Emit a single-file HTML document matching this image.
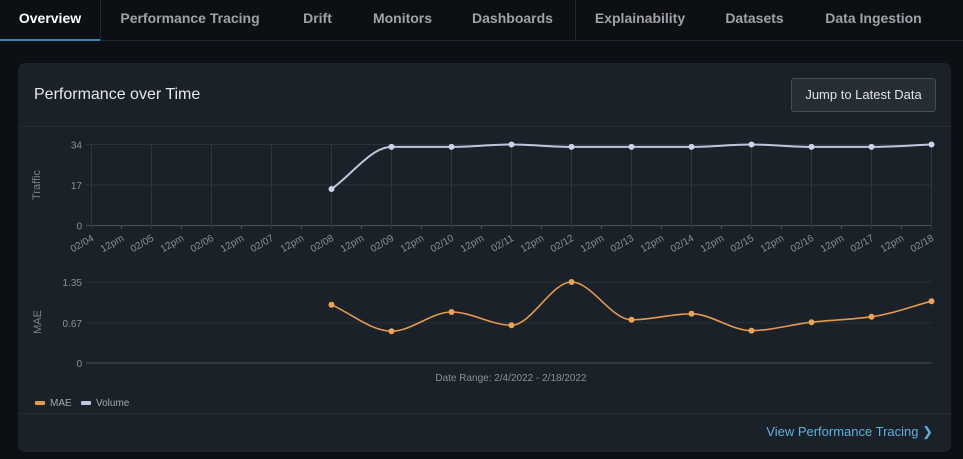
<!DOCTYPE html>
<html><head><meta charset="utf-8"><style>
*{box-sizing:border-box;margin:0;padding:0}
body{width:963px;height:459px;background:#0c1015;font-family:"Liberation Sans",sans-serif;overflow:hidden;position:relative}
.tabs{position:absolute;left:0;top:0;width:963px;height:41px;border-bottom:1px solid #242a31}
.tab{position:absolute;top:0;height:41px;line-height:36px;font-size:14px;font-weight:bold;color:#9ea2a7;text-align:center}
.card{position:absolute;left:18px;top:63px;width:933px;height:389px;background:#1b2128;border-radius:7px}
.title{position:absolute;left:16px;top:23px;font-size:16px;color:#e6e8ea}
.btn{position:absolute;left:773px;top:15px;width:145px;height:34px;border:1px solid #464c54;border-radius:3px;background:#272d35;color:#e0e2e4;font-size:13px;line-height:32px;text-align:center}
.link{position:absolute;right:18px;top:361px;font-size:13px;color:#5eb1dd}
svg{position:absolute;left:0;top:0}
</style></head><body>
<div class="tabs">
<div class="tab" style="left:0;width:100px;color:#fff;border-bottom:2px solid #3b86b0">Overview</div>
<div style="position:absolute;left:100px;top:0;width:1px;height:41px;background:#242a31"></div>
<div class="tab" style="left:110px;width:160px">Performance Tracing</div>
<div class="tab" style="left:290px;width:55px">Drift</div>
<div class="tab" style="left:365px;width:75px">Monitors</div>
<div class="tab" style="left:465px;width:95px">Dashboards</div>
<div style="position:absolute;left:575px;top:0;width:1px;height:41px;background:#242a31"></div>
<div class="tab" style="left:585px;width:110px">Explainability</div>
<div class="tab" style="left:717px;width:75px">Datasets</div>
<div class="tab" style="left:816px;width:115px">Data Ingestion</div>
</div>
<div class="card">
<div class="title">Performance over Time</div>
<div class="btn">Jump to Latest Data</div>
<div style="position:absolute;left:0;top:63px;width:933px;height:1px;background:#262c33"></div>
<div style="position:absolute;left:0;top:350px;width:933px;height:1px;background:#262c33"></div>
<div class="link">View Performance Tracing &#x276F;</div>
</div>
<svg id="chart" width="963" height="459"></svg>
<script>
const dayLabels=["02/04","02/05","02/06","02/07","02/08","02/09","02/10","02/11","02/12","02/13","02/14","02/15","02/16","02/17","02/18"];
const pointDays=[4,5,6,7,8,9,10,11,12,13,14];
const trafficValues=[15.3,33,33,34,33,33,33,34,33,33,34];
const maeValues=[0.97,0.53,0.85,0.63,1.35,0.72,0.82,0.54,0.68,0.77,1.03];
const trafficTicks=[0,17,34];
const maeTicks=[0,0.67,1.35];
const maeTickLabels=["0","0.67","1.35"];
const NS="http://www.w3.org/2000/svg";
const svg=document.getElementById('chart');
const x=d=>91.5+d*60;
const yT=v=>225.5-v/34*81;
const yM=v=>363-v/1.35*81;
function el(t,a,p){const e=document.createElementNS(NS,t);for(const k in a)e.setAttribute(k,a[k]);(p||svg).appendChild(e);return e;}
function mono(xs,ys){const n=xs.length,d=[],m=[];for(let i=0;i<n-1;i++)d.push((ys[i+1]-ys[i])/(xs[i+1]-xs[i]));
m[0]=d[0];m[n-1]=d[n-2];for(let i=1;i<n-1;i++){m[i]=d[i-1]*d[i]<=0?0:3*(d[i-1]+d[i])/((2/d[i-1]+1/d[i])+(1/d[i-1]+2/d[i]))*1;if(d[i-1]*d[i]>0){const h0=xs[i]-xs[i-1],h1=xs[i+1]-xs[i];m[i]=(3*(h0+h1))/((2*h1+h0)/d[i-1]+(h1+2*h0)/d[i]);}}
let s="M"+xs[0]+","+ys[0];for(let i=0;i<n-1;i++){const h=(xs[i+1]-xs[i])/3;s+=" C"+(xs[i]+h)+","+(ys[i]+m[i]*h)+" "+(xs[i+1]-h)+","+(ys[i+1]-m[i+1]*h)+" "+xs[i+1]+","+ys[i+1];}return s;}
// top grid
trafficTicks.forEach(t=>{const l=el('line',{x1:86,x2:931.5,y1:yT(t),y2:yT(t),stroke:t===0?'#4a5058':'#2b3138'});

const tx=el('text',{x:82,y:yT(t)+4,'text-anchor':'end','font-size':10,fill:'#8b9096'});tx.textContent=t;
});
dayLabels.forEach((lab,i)=>{const l=el('line',{x1:x(i),x2:x(i),y1:144.5,y2:229,stroke:'#30363d'});

const t=el('text',{transform:`translate(${x(i)+3},${240}) rotate(-30)`,'text-anchor':'end','font-size':10,fill:'#8b9096'});t.textContent=lab;

if(i<dayLabels.length-1){el('line',{x1:x(i)+30,x2:x(i)+30,y1:225.5,y2:229,stroke:'#4a5058'});
const p=el('text',{transform:`translate(${x(i)+33},${240}) rotate(-30)`,'text-anchor':'end','font-size':10,fill:'#8b9096'});p.textContent='12pm';
}});
let ax=el('text',{transform:'translate(40,185) rotate(-90)','text-anchor':'middle','font-size':11,fill:'#7d8288'});ax.textContent='Traffic';

// bottom grid
maeTicks.forEach((t,i)=>{const l=el('line',{x1:86,x2:931.5,y1:yM(t),y2:yM(t),stroke:t===0?'#4a5058':'#2b3138'});

const tx=el('text',{x:82,y:yM(t)+4,'text-anchor':'end','font-size':10,fill:'#8b9096'});tx.textContent=maeTickLabels[i];
});
ax=el('text',{transform:'translate(41,322) rotate(-90)','text-anchor':'middle','font-size':11,fill:'#7d8288'});ax.textContent='MAE';

ax=el('text',{x:511,y:381,'text-anchor':'middle','font-size':10,fill:'#8b9096'});ax.textContent='Date Range: 2/4/2022 - 2/18/2022';

// series
const xs=pointDays.map(x);
let p=el('path',{d:mono(xs,trafficValues.map(yT)),fill:'none',stroke:'#c3c3e0','stroke-width':2});

trafficValues.forEach((v,i)=>{const c=el('circle',{cx:xs[i],cy:yT(v),r:3,fill:'#d0d0ea'});
});
p=el('path',{d:mono(xs,maeValues.map(yM)),fill:'none',stroke:'#e49a4e','stroke-width':1.6});

maeValues.forEach((v,i)=>{const c=el('circle',{cx:xs[i],cy:yM(v),r:3,fill:'#eda357'});
});
// legend
let g=el('g',{});
el('rect',{x:35,y:401,width:10,height:4,fill:'#e49a4e',rx:1},g);
let t=el('text',{x:50,y:406,'font-size':10,fill:'#a4a8ad'},g);t.textContent='MAE';
g=el('g',{});
el('rect',{x:81,y:401,width:10,height:4,fill:'#c3c3e0',rx:1},g);
t=el('text',{x:96,y:406,'font-size':10,fill:'#a4a8ad'},g);t.textContent='Volume';
</script>
</body></html>
